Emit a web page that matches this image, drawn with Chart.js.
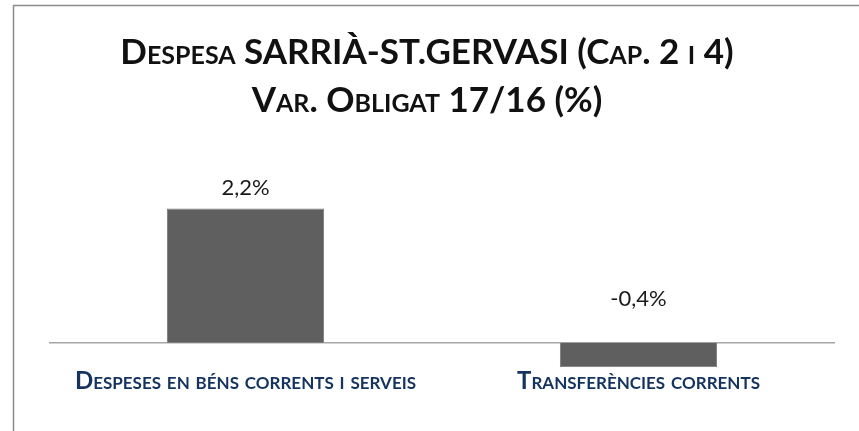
<!DOCTYPE html>
<html>
<head>
<meta charset="utf-8">
<script src="https://cdn.jsdelivr.net/npm/chart.js@4"></script>
<style>
  html, body { margin: 0; padding: 0; background: #fff; }
  #wrap { width: 859px; height: 431px; }
</style>
</head>
<body>
<div id="wrap"><canvas id="chart"></canvas></div>
<script>
const categories = ['Despeses en béns corrents i serveis', 'Transferències corrents'];
const variation = [2.2, -0.4];
const titleLines = ['Despesa SARRIÀ-ST.GERVASI (Cap. 2 i 4)', 'Var. Obligat 17/16 (%)'];

const FAMILY = 'Lato, "Open Sans", sans-serif';
Chart.defaults.font.family = FAMILY;

// frame of the chart box (only left and top edges fall inside the canvas)
const frame = {
  id: 'frame',
  beforeDraw(chart) {
    const ctx = chart.ctx;
    ctx.save();
    ctx.strokeStyle = '#8c8c8c';
    ctx.lineWidth = 1.5;
    ctx.strokeRect(13.5, 5.5, chart.width + 20, chart.height + 20);
    ctx.restore();
  }
};

// zero line and the value labels over each bar
const valueLabels = {
  id: 'valueLabels',
  beforeDatasetsDraw(chart) {
    const ctx = chart.ctx;
    const y0 = chart.scales.y.getPixelForValue(0);
    ctx.save();
    ctx.strokeStyle = '#a6a6a6';
    ctx.lineWidth = 1.5;
    ctx.beginPath();
    ctx.moveTo(chart.chartArea.left, y0);
    ctx.lineTo(chart.chartArea.right, y0);
    ctx.stroke();
    ctx.restore();
  },
  afterDatasetsDraw(chart) {
    const ctx = chart.ctx;
    const meta = chart.getDatasetMeta(0);
    ctx.save();
    ctx.font = '22px ' + FAMILY;
    ctx.fillStyle = '#1a1a1a';
    ctx.textAlign = 'center';
    ctx.textBaseline = 'middle';
    meta.data.forEach((bar, i) => {
      const v = variation[i];
      const txt = v.toFixed(1).replace('.', ',') + '%';
      const y = v >= 0 ? bar.y - 21 : bar.base - 44;
      ctx.fillText(txt, bar.x, y);
    });
    ctx.restore();
  }
};

new Chart(document.getElementById('chart'), {
  type: 'bar',
  data: {
    labels: categories,
    datasets: [{
      data: variation,
      backgroundColor: '#5f5f5f',
      borderColor: '#7a7a7a',
      borderWidth: 1,
      categoryPercentage: 1,
      barPercentage: 0.4
    }]
  },
  options: {
    responsive: true,
    maintainAspectRatio: false,
    animation: false,
    layout: {
      padding: { left: 19, right: 24, top: 0, bottom: 35 }
    },
    plugins: {
      legend: { display: false },
      tooltip: { enabled: false },
      title: {
        display: true,
        text: titleLines,
        color: '#111',
        // small caps go through the font shorthand
        font: { size: 35, weight: 'small-caps bold', lineHeight: 1.371 },
        padding: { top: 29, bottom: 34.7 }
      }
    },
    scales: {
      x: {
        grid: { display: false, drawTicks: false },
        border: { display: false },
        ticks: {
          color: '#15335f',
          font: { size: 24, weight: 'small-caps bold' },
          padding: 0,
          maxRotation: 0,
          autoSkip: false
        }
      },
      y: {
        min: -0.4,
        max: 3.0,
        grid: { display: false },
        border: { display: false },
        ticks: { display: false },
        // empty gutter left of the plot
        afterFit(scale) { scale.width = 30; }
      }
    }
  },
  plugins: [frame, valueLabels]
});
</script>
</body>
</html>
